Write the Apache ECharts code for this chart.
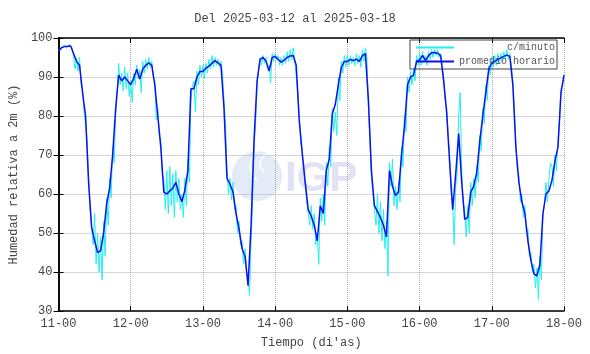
<!DOCTYPE html>
<html><head><meta charset="utf-8">
<script src="https://cdn.jsdelivr.net/npm/echarts@6/dist/echarts.min.js"></script>
<style>html,body{margin:0;padding:0;background:#fff}#c{width:590px;height:354px}</style>
</head><body><div id="c"></div>
<script>
const titleText = 'Del 2025-03-12 al 2025-03-18';
const xTickLabels = ['11-00','12-00','13-00','14-00','15-00','16-00','17-00','18-00'];
const yTicks = [30,40,50,60,70,80,90,100];
const seriesNames = ['c/minuto','promedio horario'];

// hourly mean, one value per hour from 11-00 to 18-00
const hourly = [
 96.5,97.5,97.8,97.8,98,96,94,93,86,80,63,51.5,48,45,45.5,50,57.5,61.5,70,82,90.5,89,90,89,
 88,89.7,92,89.5,92,93,93.6,93,88,80,72,60.5,60,60.8,61.5,63,60,58,61,66,87,87,90,91.4,
 91.4,92.3,92.8,93.5,94.2,93.6,93,82,64,62.5,60.5,55,51,46,44,36.5,52,74,89,94.5,95,94,91.5,95,
 95.3,94.5,93.8,94.3,95,95.4,95.5,93,79,70.5,63,56,54.3,52,48,57,55,66,69,80.5,83,88,92.5,94,
 94,94.5,94.2,94.6,94,95.5,96,84,66,57,55.5,54,52,49,66,62,59.6,60.5,70,77.5,88,90,90.5,94,
 94.4,95.5,94.3,95.5,96.2,96.3,96.1,95.5,89,81,68,56,65,75.5,63,53.5,54,60.5,62,65.5,73.5,80,86,92,
 93.6,94,94.5,94.9,95.3,95.6,95.3,88,72,63,58,55,48,43,39.5,39,42,55,60,60.8,63.5,68.5,72,86,90.5
];

// minute series, sampled every 30 minutes
const minuteDay1 = [96.8,97.3,97.6,97.9,98.2,97.6,97.9,98.3,98.4,97.5,95.2,92,94.8,91.5,95,88,87,81,78,74,64,56,56,47,55,42,50,40,49,38,53,44,59,52,64,59,72,68,80,86,93.5,88,91,86.5,92.5,87,91,85];
const minuteDay2 = [89,83.5,91,88,93,89.5,92,86,94,91,94.5,92,95,92.5,94,90,89,79,82,75,74,65,64,56,66,55,67,57,65,54,66,58,64,56,60,54,64,57,69,63,84,88,89,81,91.5,88,93,90];
const minuteDay3 = [93,89.5,93.5,91,94.5,92,95.5,92.5,95,93,94.5,92.5,94,91,84,78,66,60,64,58.5,63,56,57,50,53,47,48,42,46,40,39,34,48,58,72,78,88,92,95,93,95.5,93.5,95,92,93,88.5,96,94];
const minuteDay4 = [96,94.5,95.5,93,95,93,95.5,93.5,96.5,94,97,94.5,97.5,94.5,94,86,80,73,71,66,66,58,58,52,57,51,55,47,50,42,59,53,60,52,68,62,72,67,82,76,81,75,90,84,94,91,95.5,92.5];
const minuteDay5 = [95.5,93,95.5,93.5,95,93,96,93.5,95.5,92.5,97,94,97.5,95,82,74,64,60,60,52,60,50,58,48,56,46,53,39,68,62,69,57,62,56,63,58,72,67,80,76,90,86,91.5,88,92,89,95.5,93];
const minuteDay6 = [96,93,96.5,94,95.5,93,96.5,94.5,97,95,97,95.5,97,95,96,93,90,84,82,75,70,60,58,47,62,65,80,86,66,58,56,49,57,50,63,57,64,59,67,63,75,71,82,78,88,84,93,90.5];
const minuteDay7 = [95,92.5,95.5,93,96,93.5,96,94,96.5,94.5,97,94.5,96,93,89,82,73,66,65,58,60,54,57,50,51,44,45,40,42,36,41,33,44,38,55,57,63,58,64,68,67,62,70,66,74,79,87,88,90.5];

const minute = [].concat(minuteDay1,minuteDay2,minuteDay3,minuteDay4,minuteDay5,minuteDay6,minuteDay7);
const minuteData = minute.map((v,i)=>[i*0.5, v]);
const hourlyData = hourly.map((v,i)=>[i, v]);

const mono = 'Liberation Mono';
const txt = '#444';
const chart = echarts.init(document.getElementById('c'), null, {renderer:'canvas'});
const frame = {show:true, lineStyle:{color:'#000', width:1.5}};
const tick = {show:true, inside:true, length:5, lineStyle:{color:'#000', width:1}};
chart.setOption({
  animation:false,
  backgroundColor:'#fff',
  title:{text:titleText, left:'center', top:8, textStyle:{fontFamily:mono, fontSize:12, fontWeight:'normal', color:txt}},
  grid:{left:54, right:26, top:38, bottom:41},
  legend:{
    orient:'vertical', right:33, top:40, itemWidth:38, itemHeight:2, itemGap:3,
    padding:[2,2,2,6], borderColor:'#444', borderWidth:1, icon:'rect',
    formatter: n => n.padStart(16, ' '),
    textStyle:{fontFamily:mono, fontSize:10, color:'#555', lineHeight:11},
    data: seriesNames
  },
  graphic:[
    {type:'circle', z:0, silent:true, shape:{cx:257, cy:176, r:25}, style:{fill:'#e3eaf8'}},
    {type:'arc', z:0, silent:true, shape:{cx:268, cy:166, r:18, startAngle:2.2, endAngle:4.6}, style:{stroke:'#ffffff', lineWidth:1.5, fill:null}},
    {type:'arc', z:0, silent:true, shape:{cx:270, cy:164, r:10, startAngle:2.2, endAngle:4.6}, style:{stroke:'#ffffff', lineWidth:1.5, fill:null}},
    {type:'text', z:0, silent:true, style:{text:'IGP', x:285, y:158, font:'bold 42px "Liberation Sans"', fill:'#e2e2f4'}}
  ],
  xAxis:[{
    type:'value', min:0, max:168, interval:24,
    name:"Tiempo (di'as)", nameLocation:'middle', nameGap:26,
    nameTextStyle:{fontFamily:mono, fontSize:12, color:txt},
    axisLine:frame, axisTick:tick,
    axisLabel:{fontFamily:mono, fontSize:12, color:txt, margin:7, formatter:v=>xTickLabels[Math.round(v/24)]},
    splitLine:{show:true, lineStyle:{type:'dotted', color:'#aaa', width:1}}
  },{
    type:'value', position:'top', min:0, max:168, interval:24,
    axisLine:frame, axisTick:tick, axisLabel:{show:false}, splitLine:{show:false}
  }],
  yAxis:[{
    type:'value', min:yTicks[0], max:yTicks[yTicks.length-1], interval:10,
    name:'Humedad relativa a 2m (%)', nameLocation:'middle', nameGap:37,
    nameTextStyle:{fontFamily:mono, fontSize:12, color:txt},
    axisLine:frame, axisTick:tick,
    axisLabel:{fontFamily:mono, fontSize:12, color:txt, margin:6},
    splitLine:{show:true, lineStyle:{type:'dotted', color:'#aaa', width:1}}
  },{
    type:'value', position:'right', min:30, max:100, interval:10,
    axisLine:frame, axisTick:tick, axisLabel:{show:false}, splitLine:{show:false}
  }],
  series:[
    {name:seriesNames[0], type:'line', data:minuteData, showSymbol:false, symbol:'none', z:3,
     lineStyle:{color:'#22f0f0', width:1}, itemStyle:{color:'#22f0f0'}},
    {name:seriesNames[1], type:'line', data:hourlyData, showSymbol:false, symbol:'none', z:4,
     lineStyle:{color:'#1010ee', width:1.5}, itemStyle:{color:'#1010ee'}}
  ]
});
</script></body></html>
